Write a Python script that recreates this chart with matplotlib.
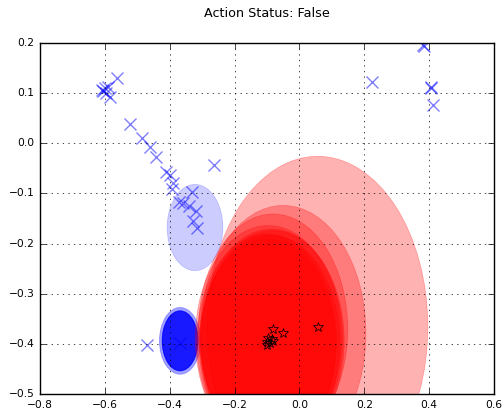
import numpy as np
import matplotlib
matplotlib.use('Agg')
import matplotlib.pyplot as plt
from matplotlib.patches import Ellipse

plt.style.use('classic')

# blue 'x' points
blue_x = [-0.610, -0.600, -0.589, -0.584, -0.563, -0.596, -0.605,
          -0.522, -0.485, -0.461, -0.442, -0.411, -0.399, -0.391, -0.394,
          -0.263, -0.332, -0.370, -0.358, -0.340, -0.319, -0.329, -0.317,
          0.380, 0.385, 0.405, 0.407, 0.413, 0.223, -0.470, -0.368]
blue_y = [0.106, 0.110, 0.113, 0.093, 0.130, 0.100, 0.104,
          0.038, 0.010, -0.008, -0.027, -0.057, -0.063, -0.080, -0.092,
          -0.043, -0.097, -0.117, -0.120, -0.125, -0.136, -0.156, -0.168,
          0.196, 0.194, 0.113, 0.110, 0.076, 0.123, -0.402, -0.398]

# black star points
star_x = [-0.081, -0.050, 0.056, -0.096, -0.086, -0.101, -0.091, -0.099, -0.082]
star_y = [-0.371, -0.379, -0.366, -0.389, -0.391, -0.396, -0.398, -0.402, -0.394]

# blue ellipses: centre, width, height
blue_ex = [-0.322] + [-0.368] * 10
blue_ey = [-0.168] + [-0.394] * 10
blue_w = [0.172, 0.128, 0.126, 0.112, 0.111, 0.110, 0.110, 0.110, 0.109, 0.109, 0.108]
blue_h = [0.172, 0.134, 0.132, 0.121, 0.120, 0.120, 0.119, 0.119, 0.118, 0.118, 0.117]

# red ellipses (one per star)
red_d = [0.46, 0.51, 0.68, 0.45, 0.44, 0.43, 0.43, 0.42, 0.44]

fig = plt.figure(figsize=(5.03, 4.12), dpi=100, facecolor='w')
ax = fig.add_axes([0.0795, 0.0437, 0.9026, 0.852])

for x, y, w, h in zip(blue_ex, blue_ey, blue_w, blue_h):
    ax.add_patch(Ellipse((x, y), w, h, facecolor='b', edgecolor='b',
                         alpha=0.2, linewidth=0.5))

for x, y, d in zip(star_x, star_y, red_d):
    ax.add_patch(Ellipse((x, y), d, d, facecolor='r', edgecolor='r',
                         alpha=0.3, linewidth=0.5))

ax.plot(blue_x, blue_y, 'x', color='b', alpha=0.5, markersize=8, mew=1)
ax.plot(star_x, star_y, '*', markerfacecolor='none', markeredgecolor='k',
        markersize=7, mew=0.5)

ax.set_xlim(-0.8, 0.6)
ax.set_ylim(-0.5, 0.2)
ax.grid(True)
ax.tick_params(labelsize=7.7)
ax.set_title('Action Status: False', fontsize=9.2, pad=19)

fig.savefig('out.png', dpi=100, facecolor='w')
